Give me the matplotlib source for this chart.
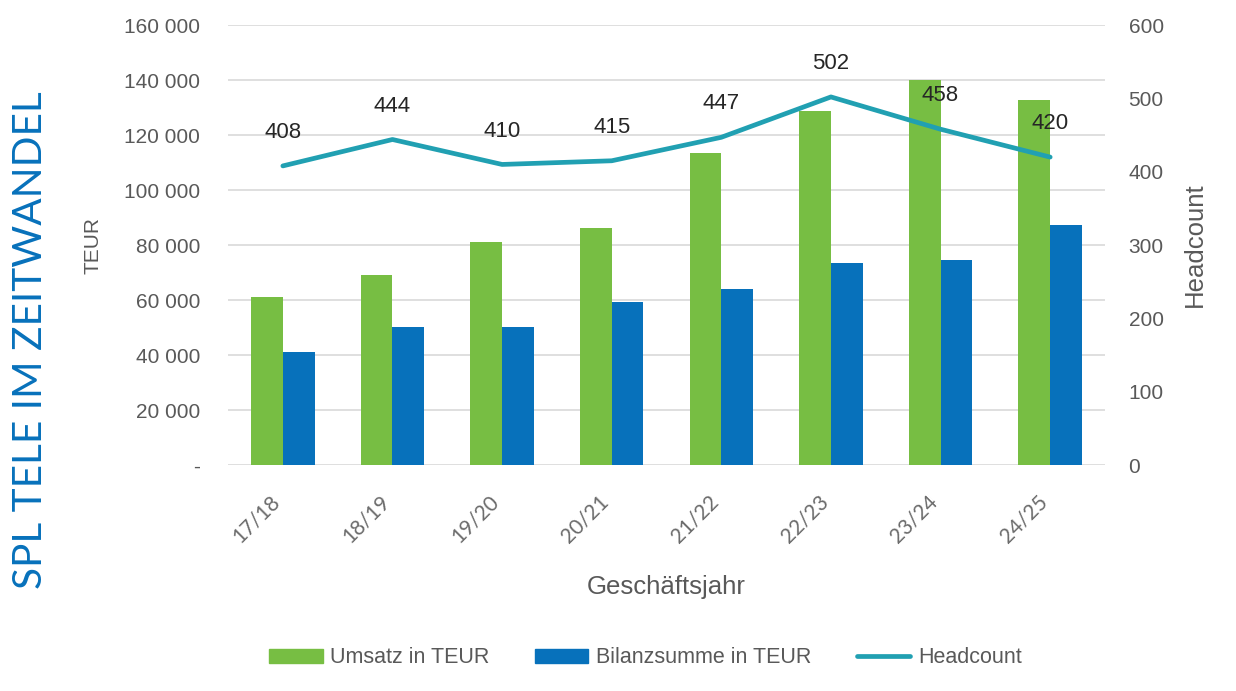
import numpy as np
import matplotlib.pyplot as plt
import matplotlib.transforms as mtransforms
from matplotlib.ticker import FuncFormatter, MultipleLocator
from matplotlib.patches import Patch
from matplotlib.lines import Line2D

jahre = ["17/18", "18/19", "19/20", "20/21", "21/22", "22/23", "23/24", "24/25"]
umsatz = [61300, 69100, 81300, 86200, 113500, 128800, 140000, 132800]
bilanzsumme = [41000, 50300, 50300, 59200, 64000, 73400, 74500, 87300]
headcount = [408, 444, 410, 415, 447, 502, 458, 420]

GREEN = "#77BE43"
BLUE = "#0771BB"
TEAL = "#21A0B2"
GREY = "#595959"
GRID = "#D9D9D9"

plt.rcParams["font.family"] = ["Liberation Sans", "DejaVu Sans"]

fig = plt.figure(figsize=(12.36, 6.91), dpi=100)
ax = fig.add_axes([0.1845, 0.3266, 0.7095, 0.6372])

x = np.arange(len(jahre))
w = 0.29
ax.bar(x - w / 2, umsatz, w, color=GREEN, zorder=2)
ax.bar(x + w / 2, bilanzsumme, w, color=BLUE, zorder=2)

ax.set_xlim(-0.5, len(jahre) - 0.5)
ax.set_ylim(0, 160000)
ax.yaxis.set_major_locator(MultipleLocator(20000))


def teur(v, pos):
    if v == 0:
        return "-"
    return f"{int(v):,}".replace(",", " ")


ax.yaxis.set_major_formatter(FuncFormatter(teur))
ax.grid(axis="y", color=GRID, linewidth=1.2, zorder=0)
ax.set_axisbelow(True)
for s in ax.spines.values():
    s.set_visible(False)
ax.tick_params(axis="y", length=0, pad=20, labelsize=15, labelcolor=GREY)
ax.tick_params(axis="x", length=0, pad=22)
ax.set_xticks(x)
ax.set_xticklabels(jahre, rotation=45, ha="right", va="center",
                   rotation_mode="anchor", fontsize=15, color="#6b6b6b",
                   family=["Lato", "DejaVu Sans"])
shift = mtransforms.ScaledTranslation(-6 / 100, -3 / 100, fig.dpi_scale_trans)
for lbl in ax.get_xticklabels():
    lbl.set_transform(lbl.get_transform() + shift)

ax.set_ylabel("TEUR", fontsize=15, color=GREY)
ax.yaxis.set_label_coords(-0.154, 0.5)
ax.yaxis.label.set_va("center")
ax.set_xlabel("Geschäftsjahr", fontsize=18.5, color=GREY)
ax.xaxis.set_label_coords(0.5, -0.277)
ax.xaxis.label.set_va("center")

ax2 = ax.twinx()
ax2.plot(x, headcount, color=TEAL, linewidth=3.4, solid_capstyle="round", zorder=3)
ax2.set_ylim(0, 600)
ax2.yaxis.set_major_locator(MultipleLocator(100))
for s in ax2.spines.values():
    s.set_visible(False)
ax2.tick_params(axis="y", length=0, pad=17, labelsize=15, labelcolor=GREY)
ax2.set_ylabel("Headcount", fontsize=18.5, color=GREY)
ax2.yaxis.set_label_coords(1.1027, 0.5)
ax2.yaxis.label.set_va("center")

for xi, h in zip(x, headcount):
    ax2.annotate(str(h), (xi, h), xytext=(0, 24), textcoords="offset points",
                 ha="center", va="center", fontsize=16, color="#262626")

fig.text(0.025, 0.508, "SPL TELE IM ZEITWANDEL", rotation=90, ha="center",
         va="center", fontsize=29.2, color=BLUE, family=["Lato", "DejaVu Sans"])

handles = [Patch(color=GREEN), Patch(color=BLUE),
           Line2D([0], [0], color=TEAL, linewidth=3.4, solid_capstyle="round")]
fig.legend(handles, ["Umsatz in TEUR", "Bilanzsumme in TEUR", "Headcount"],
           loc="center", bbox_to_anchor=(0.522, 0.048), ncol=3, frameon=False,
           handlelength=2.5, handleheight=0.6, handletextpad=0.35,
           columnspacing=2.1, prop={"size": 15.5}, labelcolor=GREY)

fig.savefig("out.png", dpi=100)
